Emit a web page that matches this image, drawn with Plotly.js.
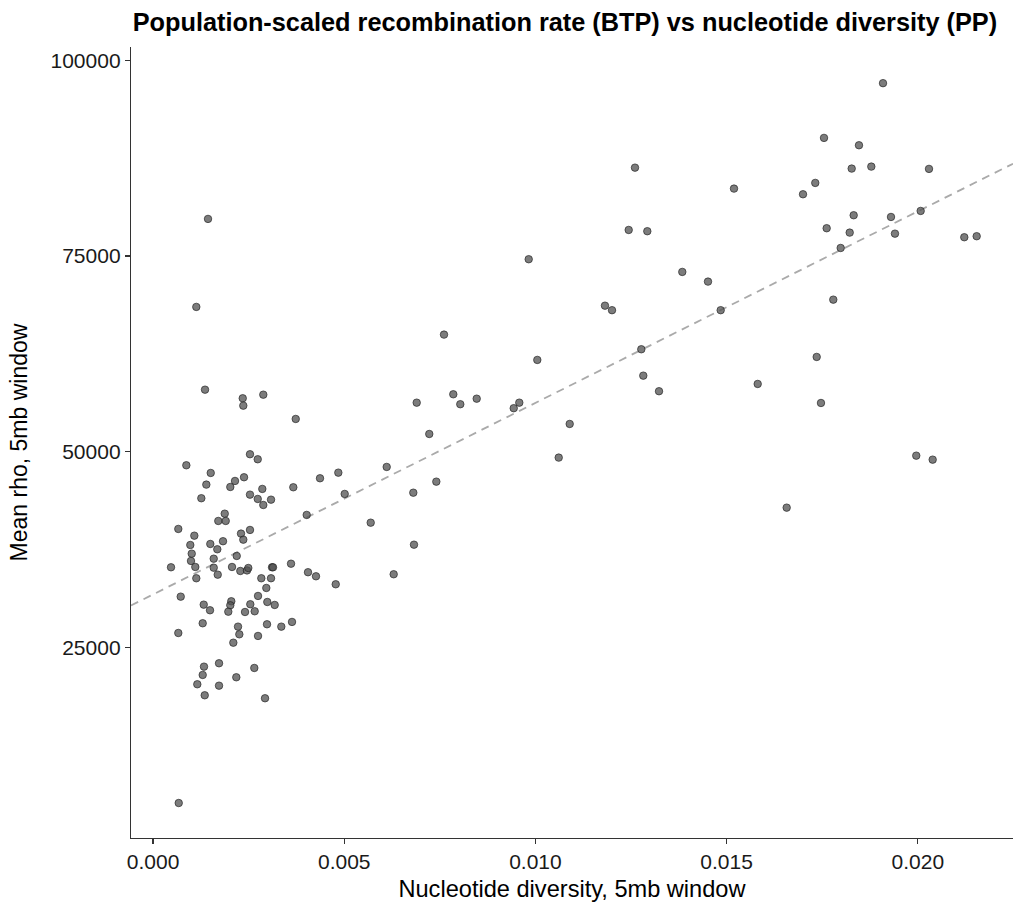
<!DOCTYPE html>
<html>
<head>
<meta charset="utf-8">
<script src="https://cdn.plot.ly/plotly-3.0.1.min.js"></script>
<style>html,body{margin:0;padding:0;background:#fff;}#chart{width:1014px;height:908px;}</style>
</head>
<body>
<div id="chart"></div>
<script>
// Nucleotide diversity (5mb window)
const nucleotideDiversity = [
0.001437,0.001131,0.001359,0.002345,0.002360,0.002883,0.003731,0.002535,0.002737,0.000870,
0.001508,0.001393,0.002143,0.002020,0.002379,0.004366,0.003668,0.002857,0.001262,0.002535,
0.002737,0.003085,0.002883,0.004018,0.001874,0.001706,0.001900,0.000660,0.002535,0.001079,
0.002300,0.002360,0.000974,0.001497,0.001829,0.001680,0.001011,0.002188,0.001586,0.000992,
0.000469,0.001105,0.001586,0.002065,0.002282,0.002457,0.002491,0.003111,0.003137,0.003608,
0.001691,0.001131,0.002831,0.003085,0.004052,0.004261,0.002962,0.000723,0.002745,0.001325,
0.002046,0.002020,0.002543,0.002988,0.003181,0.001489,0.001968,0.002405,0.002658,0.001298,
0.002222,0.002980,0.003354,0.003634,0.000660,0.002256,0.002745,0.002099,0.001332,0.001725,
0.002648,0.001298,0.002177,0.001157,0.001725,0.001351,0.002928,0.000671,0.007609,0.010049,
0.007852,0.008035,0.008464,0.006895,0.009432,0.009578,0.010896,0.007224,0.010609,0.006110,
0.004845,0.005012,0.007408,0.006806,0.005692,0.006824,0.004777,0.006293,0.009824,0.019090,
0.017547,0.018462,0.018271,0.018784,0.020293,0.012604,0.015193,0.017319,0.016998,0.018323,
0.019299,0.020075,0.017617,0.018219,0.019403,0.021216,0.021540,0.012439,0.012926,0.017983,
0.013841,0.014513,0.017790,0.011819,0.012003,0.014845,0.012769,0.017356,0.012821,0.013232,
0.015813,0.017468,0.019960,0.020389,0.016571
];
// Mean rho (5mb window)
const meanRho = [
79740,68500,57930,56830,55890,57290,54190,49680,49040,48270,
47290,45800,46270,45500,46740,46610,45460,45250,44060,44520,
43970,43880,43200,41930,42090,41160,41160,40140,40010,39280,
39540,38770,38090,38220,38570,37540,36980,36690,36340,36050,
35240,35280,35190,35280,34770,34840,35150,35240,35240,35700,
34300,33840,33840,33840,34610,34090,32600,31490,31580,30470,
30900,30390,30520,30810,30430,29750,29570,29530,29620,28090,
27660,27960,27660,28260,26850,26680,26470,25610,22550,22980,
22380,21490,21190,20300,20120,18890,18510,5130,64960,61730,
57340,56070,56780,56270,55560,56270,53550,52270,49250,48060,
47330,44610,46180,44770,40940,38130,33070,34350,74590,97080,
90090,89150,86170,86420,86130,86290,83610,84340,82890,80210,
79990,80760,78550,77990,77860,77400,77530,78330,78170,76030,
72970,71730,69430,68660,68080,68080,63090,62110,59720,57730,
58660,56230,49500,48990,42860
];
const xTickVals = [0, 0.005, 0.010, 0.015, 0.020];
const xTickText = ["0.000", "0.005", "0.010", "0.015", "0.020"];
const yTickVals = [25000, 50000, 75000, 100000];
const yTickText = ["25000", "50000", "75000", "100000"];

const xRange = [-0.000577, 0.02249];
const yRange = [660, 101700];

// Least-squares linear fit (as geom_smooth(method = "lm"))
const n = nucleotideDiversity.length;
let sx = 0, sy = 0, sxx = 0, sxy = 0;
for (let i = 0; i < n; i++) {
  const x = nucleotideDiversity[i], y = meanRho[i];
  sx += x; sy += y; sxx += x * x; sxy += x * y;
}
const slope = (n * sxy - sx * sy) / (n * sxx - sx * sx);
const intercept = (sy - slope * sx) / n;
const fitX = [xRange[0], xRange[1]];
const fitY = fitX.map(v => intercept + slope * v);

const FONT = "Liberation Sans, Arial, Helvetica, sans-serif";

const traces = [
  {
    x: fitX, y: fitY, type: "scatter", mode: "lines",
    line: {color: "#aaaaaa", width: 1.8, dash: "8px,6px"},
    hoverinfo: "skip", showlegend: false
  },
  {
    x: nucleotideDiversity, y: meanRho, type: "scatter", mode: "markers",
    marker: {size: 7.5, color: "rgba(80,80,80,0.75)", line: {color: "rgba(30,30,30,0.8)", width: 0.8}},
    showlegend: false
  }
];

const layout = {
  width: 1014, height: 908,
  paper_bgcolor: "#ffffff", plot_bgcolor: "#ffffff",
  margin: {l: 131, r: 1, t: 47, b: 70, pad: 0},
  font: {family: FONT, color: "#1a1a1a"},
  title: {
    text: "<b>Population-scaled recombination rate (BTP) vs nucleotide diversity (PP)</b>",
    font: {family: FONT, size: 25.3, color: "#000000"},
    x: 0.492, xref: "paper", xanchor: "center",
    y: 1 - 22 / 908, yref: "container", yanchor: "middle"
  },
  xaxis: {
    range: xRange, tickvals: xTickVals, ticktext: xTickText,
    showgrid: false, zeroline: false,
    showline: true, linecolor: "#333333", linewidth: 1.2,
    ticks: "outside", ticklen: 5, tickwidth: 1.2, tickcolor: "#333333",
    tickfont: {family: FONT, size: 21, color: "#1a1a1a"},
    title: {text: "Nucleotide diversity, 5mb window", font: {family: FONT, size: 23.6, color: "#000000"}, standoff: 8},
    automargin: false
  },
  yaxis: {
    range: yRange, tickvals: yTickVals, ticktext: yTickText,
    showgrid: false, zeroline: false,
    showline: true, linecolor: "#333333", linewidth: 1.2,
    ticks: "outside", ticklen: 5, tickwidth: 1.2, tickcolor: "#333333",
    tickfont: {family: FONT, size: 21, color: "#1a1a1a"},
    title: {text: "Mean rho, 5mb window", font: {family: FONT, size: 23, color: "#000000"}, standoff: 16},
    automargin: false
  }
};

Plotly.newPlot("chart", traces, layout, {displayModeBar: false, staticPlot: true});
</script>
</body>
</html>
